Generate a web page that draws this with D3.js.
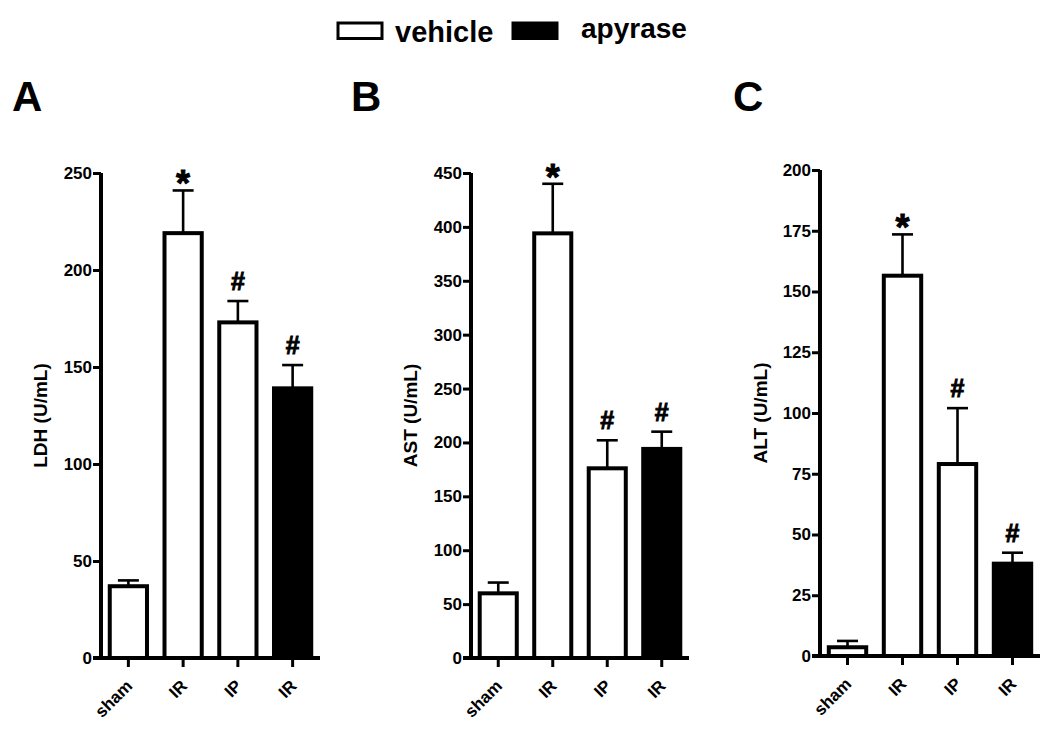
<!DOCTYPE html>
<html>
<head>
<meta charset="utf-8">
<script src="https://cdn.jsdelivr.net/npm/d3@7"></script>
<style>
  html, body { margin: 0; padding: 0; background: #fff; }
  svg { display: block; font-family: "Liberation Sans", Arial, sans-serif; font-weight: bold; }
</style>
</head>
<body>
<svg id="chart" width="1050" height="733"></svg>
<script>
// ---------------- data ----------------
const categories = ["sham", "IR", "IP", "IR"];
const groups = ["vehicle", "vehicle", "vehicle", "apyrase"];
const legendLabels = ["vehicle", "apyrase"];

const ldhMean = [37, 219, 173, 139];
const ldhSem  = [3, 22, 11, 12];
const astMean = [60, 394, 176, 194];
const astSem  = [10, 46, 26, 16];
const altMean = [3.6, 156.5, 79, 38];
const altSem  = [2.6, 17, 23, 4.5];

const signif = ["", "*", "#", "#"];

const ldhTicks = [0, 50, 100, 150, 200, 250];
const astTicks = [0, 50, 100, 150, 200, 250, 300, 350, 400, 450];
const altTicks = [0, 25, 50, 75, 100, 125, 150, 175, 200];

const panelLetters = ["A", "B", "C"];
const yLabels = ["LDH (U/mL)", "AST (U/mL)", "ALT (U/mL)"];

// ---------------- layout ----------------
const svg = d3.select("#chart");
const panels = [
  { letter: panelLetters[0], label: yLabels[0], mean: ldhMean, sem: ldhSem, ticks: ldhTicks,
    x0: 101, x1: 320, yTop: 173, yBot: 658, letterX: 12, labelX: 47 },
  { letter: panelLetters[1], label: yLabels[1], mean: astMean, sem: astSem, ticks: astTicks,
    x0: 471, x1: 689, yTop: 173, yBot: 658, letterX: 351, labelX: 417 },
  { letter: panelLetters[2], label: yLabels[2], mean: altMean, sem: altSem, ticks: altTicks,
    x0: 820, x1: 1040, yTop: 170, yBot: 656, letterX: 733, labelX: 767 }
];

const fill = d3.scaleOrdinal().domain(legendLabels).range(["#ffffff", "#000000"]);
const FONT = "Liberation Sans, Arial, sans-serif";

panels.forEach(p => {
  const g = svg.append("g");
  const x = d3.scaleBand().domain(d3.range(categories.length)).range([p.x0, p.x1])
    .paddingInner(0.32).paddingOuter(0.16);
  const y = d3.scaleLinear().domain([0, d3.max(p.ticks)]).range([p.yBot, p.yTop]);
  const cx = i => x(i) + x.bandwidth() / 2;

  // bars
  g.selectAll("rect.bar").data(p.mean).join("rect")
    .attr("class", "bar")
    .attr("x", (d, i) => x(i))
    .attr("width", x.bandwidth())
    .attr("y", d => y(d))
    .attr("height", d => y(0) - y(d))
    .attr("fill", (d, i) => fill(groups[i]))
    .attr("stroke", "#000")
    .attr("stroke-width", 4);

  // error bars (upper only)
  const eb = g.selectAll("g.err").data(p.mean).join("g").attr("class", "err");
  eb.append("line")
    .attr("x1", (d, i) => cx(i)).attr("x2", (d, i) => cx(i))
    .attr("y1", d => y(d))
    .attr("y2", (d, i) => y(d + p.sem[i]))
    .attr("stroke", "#000").attr("stroke-width", 2.6);
  eb.append("line")
    .attr("x1", (d, i) => cx(i) - 10.5)
    .attr("x2", (d, i) => cx(i) + 10.5)
    .attr("y1", (d, i) => y(d + p.sem[i]))
    .attr("y2", (d, i) => y(d + p.sem[i]))
    .attr("stroke", "#000").attr("stroke-width", 2.6);

  // significance marks
  g.selectAll("text.sig").data(p.mean).join("text")
    .attr("class", "sig")
    .attr("x", (d, i) => cx(i))
    .attr("y", (d, i) => y(d + p.sem[i]) - (signif[i] === "*" ? -6 : 11))
    .attr("text-anchor", "middle")
    .attr("font-size", (d, i) => signif[i] === "*" ? 36 : 25)
    .attr("stroke", "#000")
    .attr("stroke-width", 0.9)
    .text((d, i) => signif[i]);

  // y axis
  const yAxis = d3.axisLeft(y).tickValues(p.ticks).tickSize(8).tickSizeOuter(0).tickPadding(1);
  const ya = g.append("g").attr("transform", `translate(${p.x0},0)`).call(yAxis);
  ya.select(".domain").attr("stroke-width", 4).attr("d", `M0,${p.yTop}V${p.yBot + 2}`);
  ya.selectAll(".tick line").attr("stroke-width", 3);
  ya.selectAll(".tick text").attr("font-size", 17).attr("font-weight", "bold")
    .attr("font-family", FONT).attr("fill", "#000");

  // x axis
  const xAxis = d3.axisBottom(x).tickSize(9).tickSizeOuter(0).tickFormat(i => categories[i]);
  const xa = g.append("g").attr("transform", `translate(0,${p.yBot})`).call(xAxis);
  xa.select(".domain").attr("stroke-width", 4).attr("d", `M${p.x0 - 8},0H${p.x1}`);
  xa.selectAll(".tick line").attr("stroke-width", 3);
  xa.selectAll(".tick text")
    .attr("font-size", 17).attr("font-weight", "bold")
    .attr("font-family", FONT).attr("fill", "#000")
    .attr("text-anchor", "end")
    .attr("y", 0).attr("dy", 0)
    .attr("transform", "translate(5,29) rotate(-45)");

  // y label
  g.append("text")
    .attr("transform", `translate(${p.labelX},${(p.yTop + p.yBot) / 2}) rotate(-90)`)
    .attr("text-anchor", "middle")
    .attr("font-size", 19)
    .text(p.label);

  // panel letter
  g.append("text")
    .attr("x", p.letterX).attr("y", 111)
    .attr("font-size", 42)
    .text(p.letter);
});

// ---------------- legend ----------------
const legend = svg.append("g");
const legendItems = [
  { label: legendLabels[0], boxX: 338, textX: 395, textY: 42, size: 29 },
  { label: legendLabels[1], boxX: 513, textX: 581, textY: 38, size: 28 }
];
legendItems.forEach(it => {
  legend.append("rect")
    .attr("x", it.boxX).attr("y", 23).attr("width", 44).attr("height", 15.5)
    .attr("fill", fill(it.label)).attr("stroke", "#000").attr("stroke-width", 3);
  legend.append("text")
    .attr("x", it.textX).attr("y", it.textY)
    .attr("font-size", it.size)
    .text(it.label);
});
</script>
</body>
</html>
